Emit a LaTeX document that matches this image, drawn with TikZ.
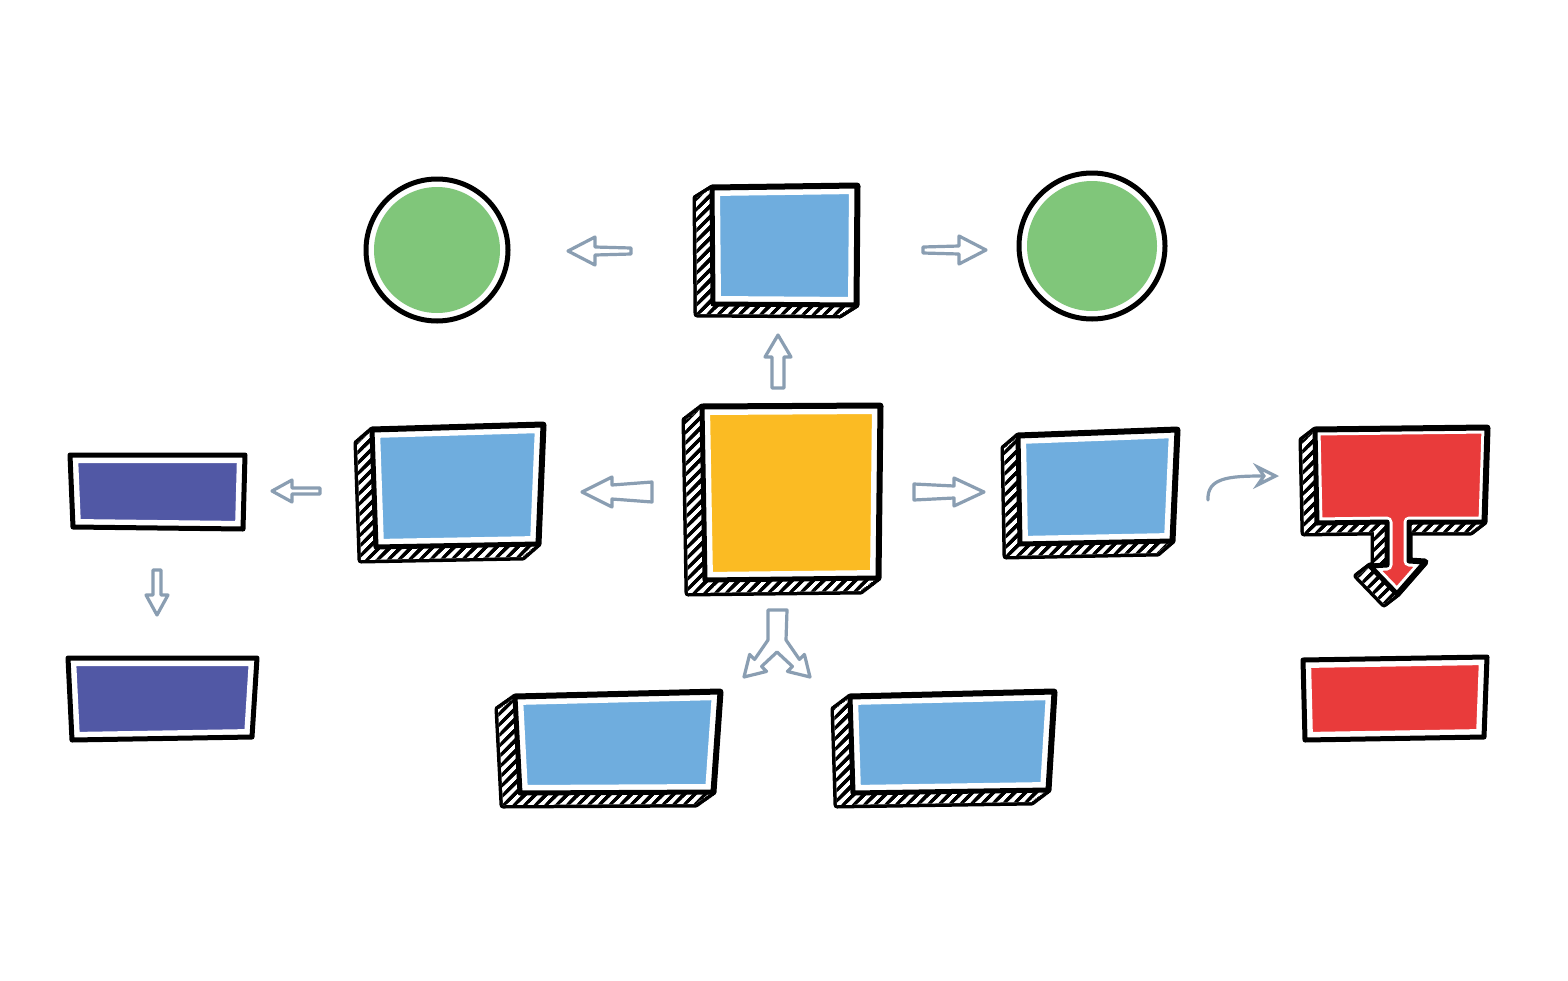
\documentclass[tikz,border=0pt]{standalone}
\usetikzlibrary{patterns.meta,arrows.meta}
\definecolor{boxblue}{RGB}{111,173,222}
\definecolor{boxyellow}{RGB}{251,187,35}
\definecolor{boxgreen}{RGB}{128,198,122}
\definecolor{boxnavy}{RGB}{81,88,165}
\definecolor{boxred}{RGB}{233,59,59}
\definecolor{arrowc}{RGB}{138,158,178}
\tikzset{
  arrowline/.style={draw=arrowc, line width=3.2pt, line join=round, line cap=round, fill=white},
  hatch/.style={pattern={Lines[angle=45,distance=7.5pt,line width=3pt]}, pattern color=black},
}
% front face: colour fill, white inner band, black outline
\newcommand\frontface[3][16pt]{%
  \fill[#3] #2;
  \begin{scope}\clip #2; \draw[white, line width=#1, line join=round] #2;\end{scope}
  \draw[black, line width=5pt, line join=round] #2;
}
% extruded (3D) shape: [band] path, dx, dy, colour
\newcommand\solidbox[5][16pt]{%
  \foreach \t in {0,1,...,10}{\filldraw[black, line width=7pt, line join=round, shift={({\t*(#3)/10},{\t*(#4)/10})}] #2;}
  \foreach \t in {0,1,...,10}{\fill[white, shift={({\t*(#3)/10},{\t*(#4)/10})}] #2;}
  \foreach \t in {0,1,...,10}{\fill[hatch, shift={({\t*(#3)/10},{\t*(#4)/10})}] #2;}
  \frontface[#1]{#2}{#5}
}
% hollow straight arrow: x, y (tip), rotation, length, head length, head half-width, shaft half-width at head, at tail
\newcommand\hollowarrow[8]{%
  \draw[arrowline, shift={(#1,#2)}, rotate=#3]
    (0,0) -- (#5,-#6) -- (#5,-#7) -- (#4,-#8) -- (#4,#8) -- (#5,#7) -- (#5,#6) -- cycle;
}
\begin{document}
\begin{tikzpicture}[x=1pt,y=-1pt]
\useasboundingbox[fill=white] (0,0) rectangle (1568,980);

% named reference points of the shapes
\coordinate (topbox) at (784,246);
\coordinate (centerbox) at (791,492);
\coordinate (leftbox) at (457,487);
\coordinate (rightbox) at (1097,487);
\coordinate (bottomleft) at (617,744);
\coordinate (bottomright) at (951,743);
\coordinate (redtop) at (1400,475);
\coordinate (redbottom) at (1395,698);
\coordinate (navytop) at (157,491);
\coordinate (navybottom) at (162,698);
\coordinate (greenleft) at (437,250);
\coordinate (greenright) at (1092,246);

% circles
\filldraw[black, fill=white, line width=5pt] (greenleft) circle[radius=71];
\fill[boxgreen] (greenleft) circle[radius=63];
\filldraw[black, fill=white, line width=5pt] (greenright) circle[radius=73];
\fill[boxgreen] (greenright) circle[radius=65];

% 3D boxes
\solidbox{(712,188) -- (857,186) -- (856,305) -- (713,304) -- cycle}{-16}{10}{boxblue}
\solidbox{(702,407) -- (880,406) -- (878,578) -- (705,580) -- cycle}{-17}{13}{boxyellow}
\solidbox{(372,430) -- (543,425) -- (538,544) -- (376,547) -- cycle}{-15}{13}{boxblue}
\solidbox{(1018,436) -- (1177,430) -- (1172,541) -- (1020,544) -- cycle}{-14}{12}{boxblue}
\solidbox{(515,697) -- (720,692) -- (713,792) -- (520,793) -- cycle}{-17}{12}{boxblue}
\solidbox{(850,697) -- (1054,692) -- (1048,790) -- (853,793) -- cycle}{-16}{12}{boxblue}
\solidbox[11pt]{(1315,430) -- (1487,428) -- (1484,522) -- (1409,522) -- (1409,561) -- (1425,562) -- (1397,594) -- (1370,566) -- (1387,565) -- (1387,522) -- (1317,523) -- cycle}{-13}{10}{boxred}

% flat boxes
\frontface{(70,455) -- (245,455) -- (243,529) -- (73,527) -- cycle}{boxnavy}
\frontface{(68,658) -- (257,658) -- (252,737) -- (72,740) -- cycle}{boxnavy}
\frontface{(1303,660) -- (1487,657) -- (1484,737) -- (1305,740) -- cycle}{boxred}

% hollow arrows
\hollowarrow{568}{251}{0}{63}{27}{14}{4}{3}
\hollowarrow{986}{250}{180}{63}{27}{14}{4}{3}
\hollowarrow{778}{335}{-90}{53}{22}{13}{6}{6}
\hollowarrow{582}{492}{0}{70}{30}{15}{7}{10}
\hollowarrow{984}{492}{180}{70}{30}{14}{6}{8}
\hollowarrow{272}{491}{0}{48}{20}{11}{3}{3}
\hollowarrow{157}{615}{90}{45}{20}{11}{4}{4}

% fork arrow
\draw[arrowline] (768,610) -- (787,610) -- (786,640) -- (799.4,659.4) -- (804.4,654.4) -- (810,677)
  -- (787.4,671.4) -- (792.4,666.4) -- (777,652) -- (761.6,666.4) -- (766.6,671.4) -- (744,677)
  -- (749.6,654.4) -- (754.6,659.4) -- (768,640) -- cycle;

% curved arrow
\coordinate (curvestart) at (1208,500);
\coordinate (curveend) at (1279,476);
\draw[arrowc, line width=3.2pt, line cap=round, line join=round, -{Stealth[open,length=26pt,width=26pt,inset=9pt]}]
  (curvestart) .. controls (1207,478) and (1228,476) .. (curveend);
\end{tikzpicture}
\end{document}
